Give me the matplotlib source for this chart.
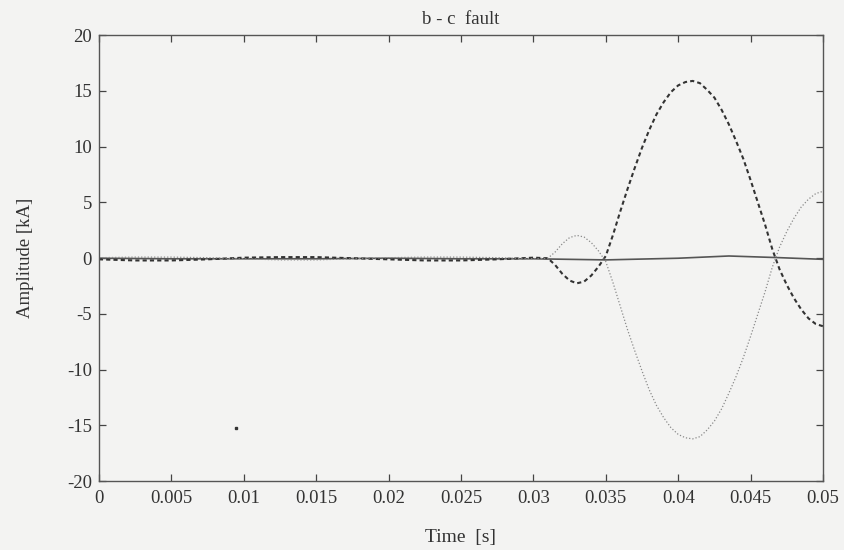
import matplotlib.pyplot as plt

# time axis for the pre-fault part (s)
t_pre = [0.0, 0.0025, 0.005, 0.0075, 0.01, 0.0125, 0.015, 0.0175,
         0.02, 0.0225, 0.025, 0.0275, 0.03, 0.031]
ib_pre = [-0.1, -0.2, -0.2, -0.1, 0.05, 0.1, 0.1, 0.0,
          -0.1, -0.2, -0.2, -0.1, 0.05, 0.0]
ic_pre = [0.05, 0.1, 0.1, 0.05, -0.05, -0.15, -0.15, -0.05,
          0.05, 0.1, 0.1, 0.05, -0.05, 0.0]

t_fault = [0.0315, 0.032, 0.0325, 0.033, 0.0335, 0.034, 0.0345, 0.035,
           0.0355, 0.036, 0.0365, 0.037, 0.0375, 0.038, 0.0385, 0.039,
           0.0395, 0.04, 0.0405, 0.041, 0.0415, 0.042, 0.0425, 0.043,
           0.0435, 0.044, 0.0445, 0.045, 0.0455, 0.046, 0.0465, 0.047,
           0.0475, 0.048, 0.0485, 0.049, 0.0495, 0.05]
ib_fault = [-0.6, -1.4, -2.0, -2.25, -2.1, -1.55, -0.75, 0.2,
            2.1, 4.2, 6.2, 8.1, 9.9, 11.5, 12.9, 14.0,
            14.9, 15.5, 15.8, 15.9, 15.7, 15.1, 14.4, 13.3,
            12.0, 10.5, 8.9, 7.0, 5.0, 3.0, 0.8, -1.0,
            -2.4, -3.6, -4.6, -5.4, -5.9, -6.1]
ic_fault = [0.55, 1.3, 1.85, 2.05, 1.9, 1.4, 0.65, -0.3,
            -2.2, -4.3, -6.4, -8.3, -10.1, -11.8, -13.2, -14.3,
            -15.2, -15.8, -16.1, -16.2, -16.0, -15.4, -14.6, -13.5,
            -12.1, -10.6, -8.9, -7.0, -5.0, -3.0, -0.8, 1.0,
            2.4, 3.6, 4.6, 5.3, 5.8, 6.0]

# third phase stays close to zero
t_a = [0.0, 0.005, 0.01, 0.015, 0.02, 0.025, 0.03, 0.035, 0.04, 0.0435,
       0.047, 0.05]
ia = [0.0, -0.05, -0.05, -0.05, 0.0, -0.05, -0.05, -0.15, 0.0, 0.2,
      0.05, -0.1]

# stray speck from the scan
speck_t = [0.0095]
speck_v = [-15.2]

xticks = [0, 0.005, 0.01, 0.015, 0.02, 0.025, 0.03, 0.035, 0.04, 0.045, 0.05]
xtick_labels = ["0", "0.005", "0.01", "0.015", "0.02", "0.025", "0.03",
                "0.035", "0.04", "0.045", "0.05"]
yticks = [-20, -15, -10, -5, 0, 5, 10, 15, 20]


def main() -> None:
    plt.rcParams["font.family"] = ["Liberation Serif", "DejaVu Serif"]
    plt.rcParams["axes.unicode_minus"] = False
    bg = "#f3f3f2"

    fig = plt.figure(figsize=(8.45, 5.5), dpi=100, facecolor=bg)
    ax = fig.add_axes([0.117, 0.125, 0.857, 0.811], facecolor=bg)

    t_b = t_pre + t_fault
    ib = ib_pre + ib_fault
    ic = ic_pre + ic_fault

    ax.plot(t_a, ia, color="#555555", linewidth=1.2, linestyle="-")
    ax.plot(t_b, ib, color="#333333", linewidth=1.5, linestyle=(0, (2.0, 1.5)))
    ax.plot(t_b, ic, color="#8a8a8a", linewidth=0.9, linestyle=(0, (1, 1.6)))
    ax.plot(speck_t, speck_v, "s", color="#333333", markersize=1.6)

    ax.set_xlim(0, 0.05)
    ax.set_ylim(-20, 20)
    ax.set_xticks(xticks)
    ax.set_xticklabels(xtick_labels)
    ax.set_yticks(yticks)

    ax.tick_params(direction="in", length=5, width=0.9, color="#444444",
                   labelsize=13.5, labelcolor="#333333", top=True, right=True)
    ax.tick_params(axis="x", pad=6)
    ax.tick_params(axis="y", pad=5)
    for spine in ax.spines.values():
        spine.set_color("#555555")
        spine.set_linewidth(1.0)

    ax.set_title("b - c  fault", fontsize=13.5, color="#333333", pad=8)
    ax.set_xlabel("Time  [s]", fontsize=14, color="#333333", labelpad=16)
    ax.set_ylabel("Amplitude [kA]", fontsize=13.5, color="#333333", labelpad=24)

    fig.savefig("out.png", dpi=100, facecolor=bg)


if __name__ == "__main__":
    main()
